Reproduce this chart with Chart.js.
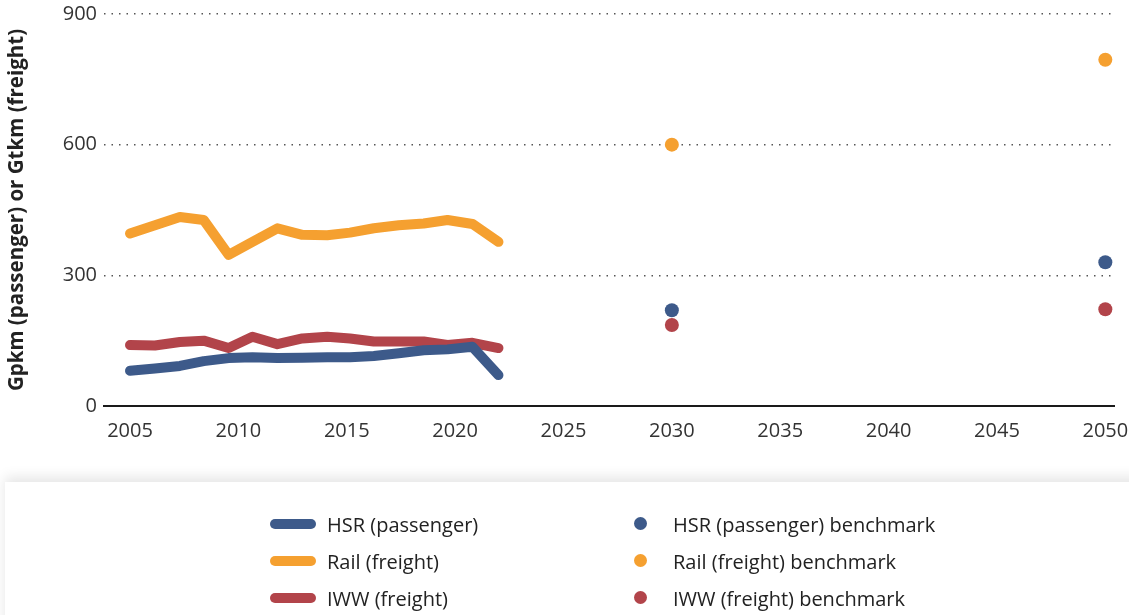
<!DOCTYPE html>
<html>
<head>
<meta charset="utf-8">
<script src="https://cdn.jsdelivr.net/npm/chart.js@4/dist/chart.umd.min.js"></script>
<style>
  html, body { margin: 0; padding: 0; background: #fff; width: 1129px; height: 615px; overflow: hidden; font-family: "Open Sans", "Noto Sans", sans-serif; }
  #wrap { position: absolute; left: 0; top: 0; width: 1129px; height: 460px; }
  #legend { position: absolute; left: 5px; top: 482px; width: 1140px; height: 150px; background: #fff;
            box-shadow: 0 -5px 12px rgba(0,0,0,0.10); }
  .item { position: absolute; height: 30px; display: flex; align-items: center; font-size: 20px; color: #222; white-space: nowrap; }
  .sw-line { position: absolute; width: 46px; height: 10px; border-radius: 5px; }
  .sw-dot { position: absolute; width: 13px; height: 13px; border-radius: 50%; }
</style>
</head>
<body>
<div id="wrap"><canvas id="c" width="1129" height="460"></canvas></div>
<div id="legend"></div>
<script>
// ---- data ----
const years = [2005, 2006.15, 2007.3, 2008.4, 2009.55, 2010.65, 2011.8, 2012.95, 2014.1, 2015.15, 2016.25, 2017.4, 2018.55, 2019.65, 2020.8, 2022];
const hsrPassenger = [81, 86, 92, 103, 110, 112, 110, 111, 112, 112, 115, 121, 128, 130, 136, 71];
const railFreight  = [396, 415, 434, 427, 347, 377, 408, 393, 392, 398, 408, 415, 419, 427, 418, 377];
const iwwFreight   = [140, 139, 147, 150, 133, 159, 142, 155, 159, 155, 148, 148, 148, 140, 145, 133];
const benchmarkYears = [2030, 2050];
const hsrBenchmark  = [220, 330];
const railBenchmark = [600, 795];
const iwwBenchmark  = [186, 222];
const xTicks = [2005, 2010, 2015, 2020, 2025, 2030, 2035, 2040, 2045, 2050];
const yTicks = [0, 300, 600, 900];
const seriesNames = ['HSR (passenger)', 'Rail (freight)', 'IWW (freight)'];
const benchNames = ['HSR (passenger) benchmark', 'Rail (freight) benchmark', 'IWW (freight) benchmark'];
const colors = ['#3D5A8A', '#F5A030', '#B2444A'];
const yTitle = 'Gpkm (passenger) or Gtkm (freight)';

const pts = (xs, ys) => xs.map((x, i) => ({ x: x, y: ys[i] }));
const lineSeries = [hsrPassenger, railFreight, iwwFreight];
const benchSeries = [hsrBenchmark, railBenchmark, iwwBenchmark];

const datasets = [];
lineSeries.forEach((s, i) => datasets.push({
  type: 'line', label: seriesNames[i], data: pts(years, s),
  borderColor: colors[i], backgroundColor: colors[i], borderWidth: 10,
  borderCapStyle: 'round', borderJoinStyle: 'round', pointRadius: 0, pointHoverRadius: 0,
  tension: 0, fill: false, order: 2
}));
benchSeries.forEach((s, i) => datasets.push({
  type: 'scatter', label: benchNames[i], data: pts(benchmarkYears, s),
  borderColor: colors[i], backgroundColor: colors[i], pointRadius: 7, borderWidth: 0,
  showLine: false, order: 1
}));

const tickFont = { family: '"Open Sans", "Noto Sans", sans-serif', size: 20 };

const chart = new Chart(document.getElementById('c'), {
  data: { datasets: datasets },
  options: {
    responsive: false, animation: false,
    layout: { padding: { top: 14, right: 15, left: 0, bottom: 0 } },
    plugins: { legend: { display: false }, tooltip: { enabled: false } },
    scales: {
      x: {
        type: 'linear', min: 2003.8, max: 2050.4,
        afterBuildTicks: (sc) => { sc.ticks = xTicks.map(v => ({ value: v })); },
        afterFit: (sc) => { sc.height = 54; sc.paddingLeft = 0; sc.paddingRight = 0; },
        grid: { display: false, drawTicks: false },
        border: { display: true, color: '#1a1a1a', width: 2 },
        ticks: { font: tickFont, color: '#333', padding: 13, maxRotation: 0, autoSkip: false,
                 callback: (v) => String(v) }
      },
      y: {
        type: 'linear', min: 0, max: 900,
        afterBuildTicks: (sc) => { sc.ticks = yTicks.map(v => ({ value: v })); },
        afterFit: (sc) => { sc.width = 104; sc.paddingTop = 0; sc.paddingBottom = 0; },
        grid: { display: true, drawTicks: false, color: '#555', lineWidth: 1.5 },
        border: { display: false, dash: [1.5, 6] },
        ticks: { font: tickFont, color: '#333', padding: 7 },
        title: { display: true, text: yTitle, color: '#222',
                 font: { family: '"Open Sans", "Noto Sans", sans-serif', size: 20.5, weight: 'bold' },
                 padding: { top: 5, bottom: 0 } }
      }
    }
  }
});

// ---- HTML legend built from chart datasets ----
const legend = document.getElementById('legend');
const rowsY = [42, 79, 116];
chart.data.datasets.forEach((ds, i) => {
  const col = i < 3 ? 0 : 1;
  const row = i % 3;
  const item = document.createElement('div');
  item.className = 'item';
  item.style.top = (rowsY[row] - 15) + 'px';
  const sw = document.createElement('span');
  if (col === 0) {
    sw.className = 'sw-line';
    sw.style.left = '0px'; sw.style.top = '10px';
    item.style.left = (270 - 5) + 'px';
    item.style.paddingLeft = '57px';
  } else {
    sw.className = 'sw-dot';
    sw.style.left = '0px'; sw.style.top = '8px';
    item.style.left = (634 - 5) + 'px';
    item.style.paddingLeft = '39px';
  }
  sw.style.background = ds.borderColor;
  item.appendChild(sw);
  const t = document.createElement('span');
  t.textContent = ds.label;
  item.appendChild(t);
  legend.appendChild(item);
});
</script>
</body>
</html>
